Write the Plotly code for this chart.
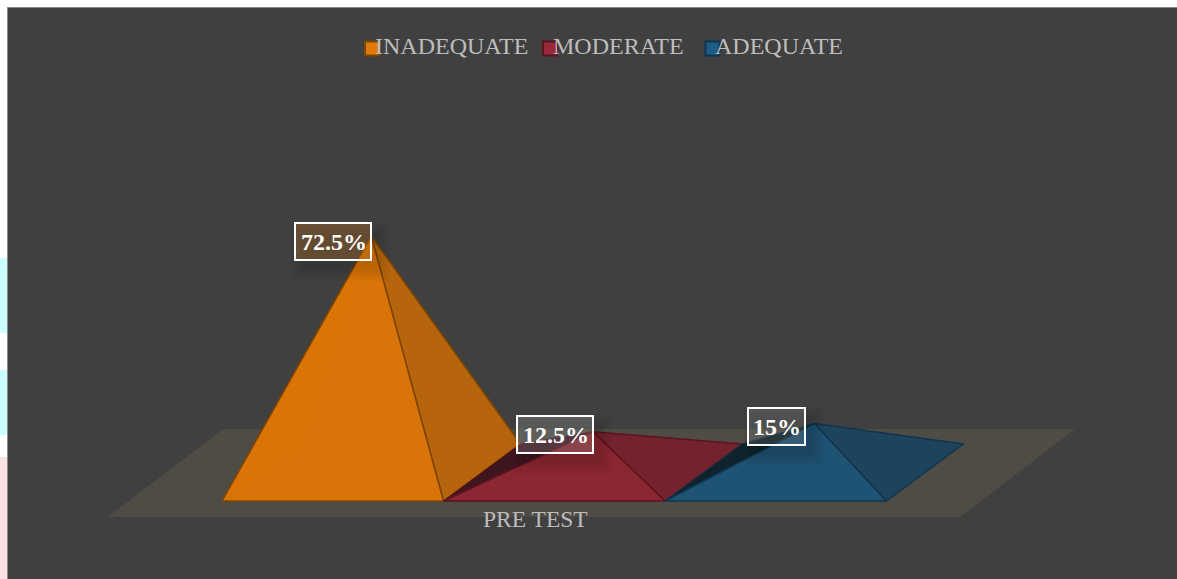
import plotly.graph_objects as go

# ---- data ----
categories = ["INADEQUATE", "MODERATE", "ADEQUATE"]
values = [72.5, 12.5, 15.0]
value_labels = ["72.5%", "12.5%", "15%"]
group_label = "PRE TEST"

# ---- styling ----
front = ["rgba(218,116,7,0.99)", "rgba(140,38,50,0.97)", "rgba(30,84,117,0.97)"]
right = ["rgba(186,102,10,0.97)", "rgba(118,33,44,0.97)", "rgba(28,68,93,0.97)"]
left = ["rgba(217,115,7,1)", "#3f1620", "#10222b"]
edge = ["#7c4503", "#5a141f", "#0f3550"]
swatch = ["#e07a08", "#98293a", "#1f5c85"]
label_bg = ["rgba(205,125,40,0.30)", "rgba(255,255,255,0.16)", "rgba(255,255,255,0.12)"]
SERIF = "Liberation Serif"

W, H = 1177, 579
PLOT_L, PLOT_T = 8, 8
ORIGIN_X, ORIGIN_Y = 222.0, 501.0      # pixel of category 0 / value 0
UNIT_X, UNIT_Y = 221.5, 3.26           # pixels per category slot / per percent
DEPTH_X, DEPTH_Y = 77 / UNIT_X, 57 / UNIT_Y  # projected depth of a pyramid base


def dx(px):
    return (px - ORIGIN_X) / UNIT_X


def dy(py):
    return (ORIGIN_Y - py) / UNIT_Y


fig = go.Figure()


def poly(xs, ys, fill, line, width=1.5):
    fig.add_trace(go.Scatter(
        x=xs + xs[:1], y=ys + ys[:1], mode="lines", fill="toself", fillcolor=fill,
        line=dict(color=line, width=width), hoverinfo="skip", showlegend=False))


# floor
n = len(categories)
fl0, fl1 = -0.515, n + 0.332
fb, fh = -4.9, 27.0
poly([fl0, fl1, fl1 + 0.52, fl0 + 0.52], [fb, fb, fb + fh, fb + fh], "#4f4c45", "#4f4c45", 0)

# pyramids, far faces first
apexes = []
for i, v in enumerate(values):
    ax, ay = i + 0.5 + DEPTH_X / 2, DEPTH_Y / 2 + v
    apexes.append((ax, ay))
    poly([i, ax, i + DEPTH_X], [0, ay, DEPTH_Y], left[i], edge[i], 1)
    poly([i + 1, ax, i + 1 + DEPTH_X], [0, ay, DEPTH_Y], right[i], edge[i], 1.5)
    poly([i, i + 1, ax], [0, 0, ay], front[i], edge[i], 1.5)

# legend, drawn so the text slightly overlaps the swatch as in the reference
legend_swatch_px = [372, 550, 712.5]
legend_text_px = [375, 553, 715]
fig.add_trace(go.Scatter(
    x=[dx(p) for p in legend_swatch_px], y=[dy(48.5)] * n, mode="markers",
    marker=dict(symbol="square", size=14, color=swatch, line=dict(color=edge, width=2)),
    hoverinfo="skip", showlegend=False))

annotations = []
for name, p in zip(categories, legend_text_px):
    annotations.append(dict(
        x=dx(p), y=dy(46), text=name, showarrow=False, xanchor="left", yanchor="middle",
        xshift=-2, font=dict(family=SERIF, size=24, color="#bdbdbd")))

annotations.append(dict(
    x=(fl0 + fl1) / 2, y=dy(519), text=group_label, showarrow=False, xshift=2,
    xanchor="center", yanchor="middle", font=dict(family=SERIF, size=23.5, color="#bdbdbd")))

label_shift = [(1, -5), (1, -3), (-8, -3)]
box_w = [78, 78, 59]
box_h = 39
shapes = []
for (ax, ay), t, bg, (sx, sy), bw in zip(apexes, value_labels, label_bg, label_shift, box_w):
    annotations.append(dict(
        x=ax, y=ay, text="<b>%s</b>" % t, showarrow=False, xanchor="right", yanchor="middle",
        xshift=sx, yshift=sy, bgcolor=bg, bordercolor="#ffffff", borderwidth=2, borderpad=3,
        width=bw - 10, height=box_h - 10, align="right", valign="middle",
        font=dict(family=SERIF, size=24, color="#ffffff")))
    # soft drop shadow of the label box, built from stacked translucent rectangles
    r_px = ORIGIN_X + ax * UNIT_X + sx
    c_py = ORIGIN_Y - ay * UNIT_Y - sy
    for grow in (12, 9, 6, 3, 0):
        shapes.append(dict(
            type="rect", xref="x", yref="y", layer="above",
            x0=dx(r_px - bw + 8 - grow), x1=dx(r_px + 6 + grow),
            y0=dy(c_py + box_h / 2 + 8 + grow), y1=dy(c_py - box_h / 2 + 12 - grow),
            fillcolor="rgba(0,0,0,0.028)", line=dict(width=0)))

# white page strip with the pale page artwork that shows at the left edge
for y0, y1, c in [(258, 333, "#ccffff"), (370, 435, "#ccffff"), (457, 579, "#ffe0e0")]:
    shapes.append(dict(type="rect", xref="paper", yref="paper", layer="below",
                       x0=0, x1=PLOT_L / W, y0=1 - y1 / H, y1=1 - y0 / H,
                       fillcolor=c, line=dict(width=0)))

fig.update_layout(
    width=W, height=H, autosize=False,
    margin=dict(l=0, r=0, t=0, b=0),
    paper_bgcolor="#ffffff", plot_bgcolor="#404040",
    showlegend=False, annotations=annotations, shapes=shapes,
    xaxis=dict(domain=[PLOT_L / W, 1], range=[dx(PLOT_L), dx(W)], visible=True,
               showgrid=False, zeroline=False, showticklabels=False, ticks="",
               showline=True, linecolor="#8a8a8a", linewidth=1, mirror=False, side="top", fixedrange=True),
    yaxis=dict(domain=[0, 1 - PLOT_T / H], range=[dy(H), dy(PLOT_T)], visible=True,
               showgrid=False, zeroline=False, showticklabels=False, ticks="",
               showline=True, linecolor="#8a8a8a", linewidth=1, mirror=False, fixedrange=True),
)

fig.write_html("out.html", config=dict(displayModeBar=False),
               post_script="document.body.style.margin='0';")
